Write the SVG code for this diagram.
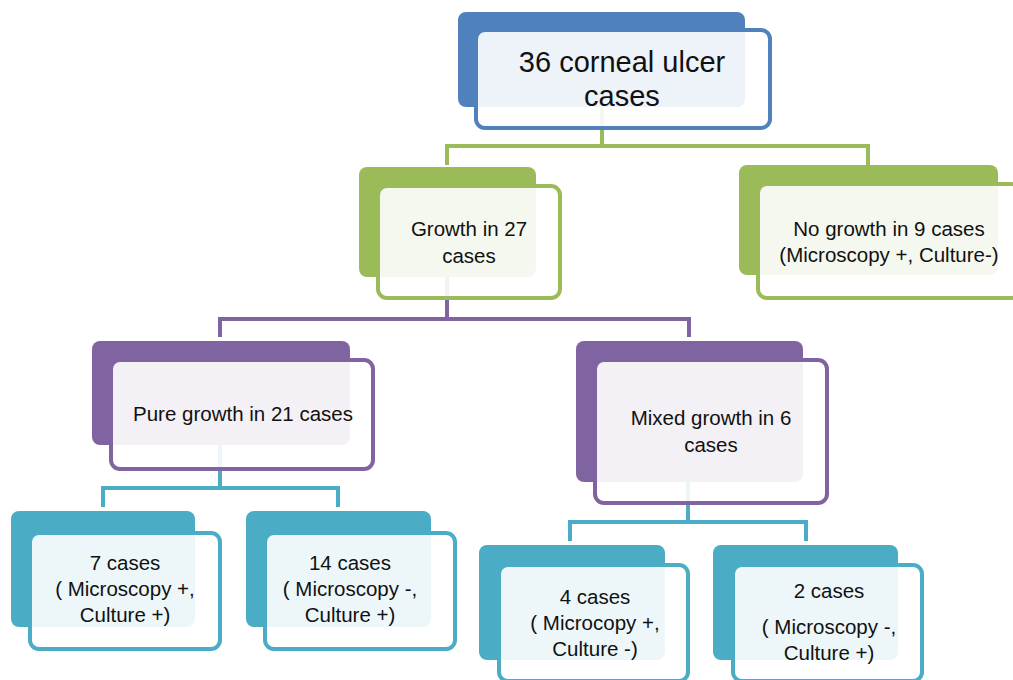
<svg xmlns="http://www.w3.org/2000/svg" width="1013" height="680" viewBox="0 0 1013 680">
<style>
.front{fill:#ffffff;fill-opacity:0.9;stroke-width:4}
.t{font-family:"Liberation Sans",Arial,sans-serif;font-size:20.5px;fill:#111;text-anchor:middle}
.big{font-size:29px}
.conn{fill:none;stroke-width:4}
.blue .back{fill:#4f81bd}.blue .front{stroke:#4f81bd}
.green .back{fill:#9bbb59}.green .front{stroke:#9bbb59}
.purple .back{fill:#8064a2}.purple .front{stroke:#8064a2}
.teal .back{fill:#4bacc6}.teal .front{stroke:#4bacc6}
</style>
<rect width="1013" height="680" fill="#ffffff"/>
<g id="connectors">
<polyline class="conn" stroke="#9bbb59" points="447,165 447,146 868,146 868,165"/>
<line class="conn" stroke="#9bbb59" x1="602" y1="107" x2="602" y2="146"/>
<polyline class="conn" stroke="#8064a2" points="220,337 220,319 689,319 689,337"/>
<line class="conn" stroke="#8064a2" x1="447" y1="277" x2="447" y2="319"/>
<polyline class="conn" stroke="#4bacc6" points="103,507 103,488 338,488 338,507"/>
<line class="conn" stroke="#4bacc6" x1="220" y1="445" x2="220" y2="488"/>
<polyline class="conn" stroke="#4bacc6" points="570,541 570,522 806,522 806,541"/>
<line class="conn" stroke="#4bacc6" x1="688" y1="482" x2="688" y2="522"/>
</g>
<g id="n-root" class="blue">
<rect class="back" x="458" y="12" width="287" height="95" rx="8"/>
<rect class="front" x="476" y="30" width="294" height="98" rx="9"/>
<text class="t big" x="622" y="72">36 corneal ulcer</text>
<text class="t big" x="622" y="106">cases</text>
</g>
<g id="n-growth" class="green">
<rect class="back" x="359" y="167" width="177" height="110" rx="8"/>
<rect class="front" x="378" y="186" width="182" height="112" rx="9"/>
<text class="t" x="469" y="236">Growth in 27</text>
<text class="t" x="469" y="263">cases</text>
</g>
<g id="n-nogrowth" class="green">
<rect class="back" x="739" y="165" width="259" height="110" rx="8"/>
<rect class="front" x="758" y="184" width="262" height="114" rx="9"/>
<text class="t" x="889" y="236">No growth in 9 cases</text>
<text class="t" x="889" y="262">(Microscopy +, Culture-)</text>
</g>
<g id="n-pure" class="purple">
<rect class="back" x="92" y="341" width="258" height="104" rx="8"/>
<rect class="front" x="111" y="360" width="262" height="109" rx="9"/>
<text class="t" x="243" y="421">Pure growth in 21 cases</text>
</g>
<g id="n-mixed" class="purple">
<rect class="back" x="576" y="341" width="227" height="141" rx="8"/>
<rect class="front" x="595" y="360" width="232" height="143" rx="9"/>
<text class="t" x="711" y="425">Mixed growth in 6</text>
<text class="t" x="711" y="452">cases</text>
</g>
<g id="n-7" class="teal">
<rect class="back" x="11" y="511" width="184" height="116" rx="8"/>
<rect class="front" x="30" y="533" width="190" height="116" rx="9"/>
<text class="t" x="125" y="570">7 cases</text>
<text class="t" x="125" y="596">( Microscopy +,</text>
<text class="t" x="125" y="622">Culture +)</text>
</g>
<g id="n-14" class="teal">
<rect class="back" x="246" y="511" width="185" height="116" rx="8"/>
<rect class="front" x="265" y="533" width="190" height="116" rx="9"/>
<text class="t" x="350" y="570">14 cases</text>
<text class="t" x="350" y="596">( Microscopy -,</text>
<text class="t" x="350" y="622">Culture +)</text>
</g>
<g id="n-4" class="teal">
<rect class="back" x="479" y="545" width="186" height="115" rx="8"/>
<rect class="front" x="499" y="565" width="189" height="116" rx="9"/>
<text class="t" x="595" y="604">4 cases</text>
<text class="t" x="595" y="630">( Microcopy +,</text>
<text class="t" x="595" y="656">Culture -)</text>
</g>
<g id="n-2" class="teal">
<rect class="back" x="713" y="545" width="185" height="115" rx="8"/>
<rect class="front" x="733" y="565" width="189" height="116" rx="9"/>
<text class="t" x="829" y="598">2 cases</text>
<text class="t" x="829" y="634">( Microscopy -,</text>
<text class="t" x="829" y="660">Culture +)</text>
</g>
</svg>
